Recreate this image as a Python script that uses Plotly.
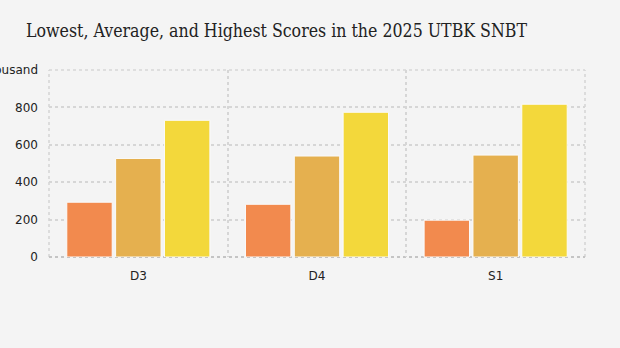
import plotly.graph_objects as go

categories = ["D3", "D4", "S1"]
lowest = [293, 282, 197]
average = [527, 540, 545]
highest = [731, 774, 817]
series_names = ["Lowest", "Average", "Highest"]
series_colors = ["#f28a4e", "#e5b04f", "#f3d83b"]
y_tickvals = [0, 200, 400, 600, 800, 1000]
y_ticktext = ["0", "200", "400", "600", "800", "Thousand"]

grid_col = "#d6d6d6"

fig = go.Figure()
for name, vals, col in zip(series_names, [lowest, average, highest], series_colors):
    fig.add_trace(go.Bar(
        x=categories, y=vals, name=name,
        marker=dict(color=col, line=dict(color="#fbfbfb", width=1)),
    ))

fig.update_layout(
    width=620, height=348,
    paper_bgcolor="#f4f4f4", plot_bgcolor="#f4f4f4",
    margin=dict(l=49, r=35, t=70, b=91),
    barmode="group", bargap=0.18, bargroupgap=0.07,
    showlegend=False,
    title=dict(text="Lowest, Average, and Highest Scores in the 2025 UTBK SNBT",
               x=26 / 620, xref="container", xanchor="left",
               y=1 - 31 / 348, yref="container", yanchor="middle",
               font=dict(family="DejaVu Serif Condensed", size=17.6, color="#222222")),
)
# plot frame: dotted edges like the reference
for (x0, y0, x1, y1, c) in [(0, 1, 1, 1, grid_col), (0, 0, 0, 1, grid_col),
                            (1, 0, 1, 1, grid_col), (0, 0, 1, 0, "#c4c4c4")]:
    fig.add_shape(type="line", xref="paper", yref="paper", x0=x0, y0=y0, x1=x1, y1=y1,
                  line=dict(color=c, width=1.6 if c == grid_col else 2, dash="dot"),
                  layer="below")
fig.update_xaxes(
    tickson="boundaries", showgrid=True, gridcolor=grid_col, griddash="dot", gridwidth=1.6,
    ticks="", showline=False, zeroline=False, ticklabelstandoff=10,
    tickfont=dict(family="DejaVu Sans", size=12, color="#222222"),
)
fig.update_yaxes(
    range=[0, 1000], tickvals=y_tickvals, ticktext=y_ticktext,
    showgrid=True, gridcolor=grid_col, griddash="dot", gridwidth=1.6,
    zeroline=False,
    showline=False, ticks="", ticklabelstandoff=10, automargin=False,
    tickfont=dict(family="DejaVu Sans", size=12, color="#222222"),
)
fig.write_html("out.html")
